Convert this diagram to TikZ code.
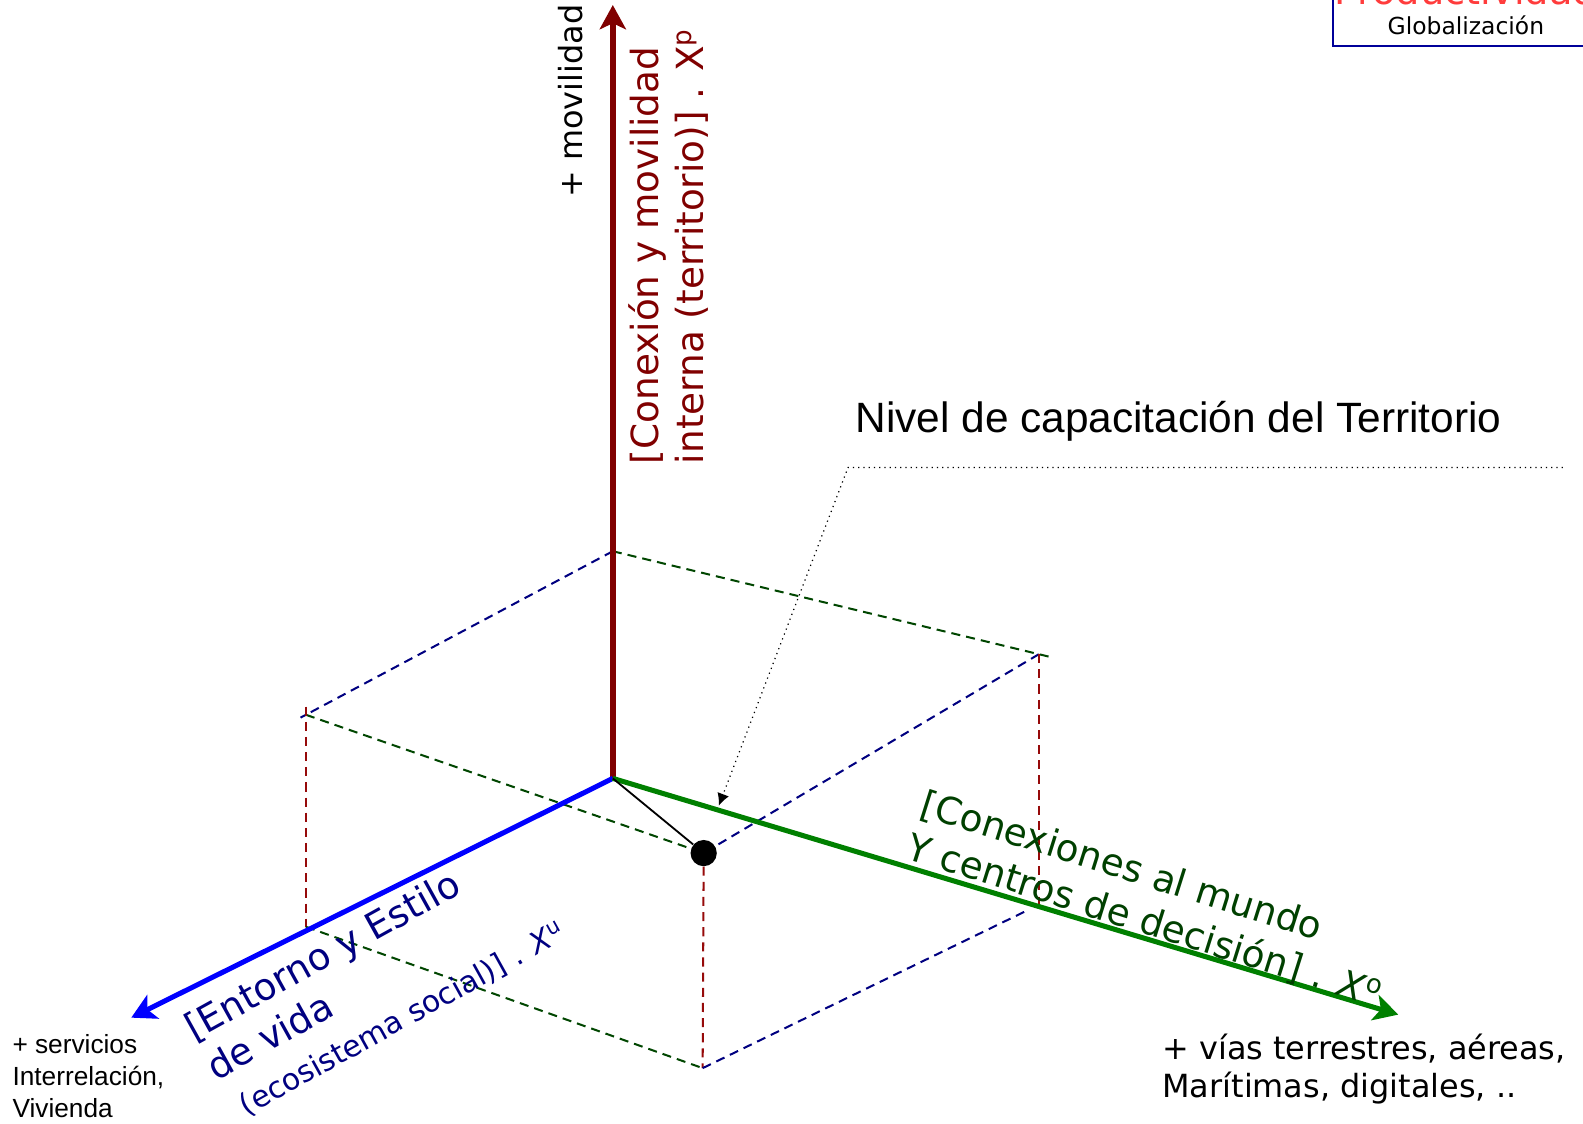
\documentclass[tikz,border=0pt]{standalone}
\usepackage{fontspec}
\setmainfont{DejaVu Sans}
\newfontfamily\arialfont{Liberation Sans}
\usepackage{tikz}
\usetikzlibrary{arrows.meta}
\definecolor{ejered}{RGB}{128,0,0}
\definecolor{ejeblue}{RGB}{0,0,255}
\definecolor{ejegreen}{RGB}{0,128,0}
\definecolor{navytext}{RGB}{0,0,128}
\definecolor{greentext}{RGB}{0,64,0}
\definecolor{reddash}{RGB}{150,10,10}
\definecolor{greendash}{RGB}{0,70,0}
\definecolor{prodred}{RGB}{255,60,60}
\definecolor{boxblue}{RGB}{0,0,153}

\begin{document}
\begin{tikzpicture}[x=0.5pt,y=-0.5pt,>={Stealth[length=12pt,width=13pt,inset=3pt]}]
                \tikzset{eje/.style={->,line width=2.5pt},
                         guia/.style={line width=1pt,dash pattern=on 4.5pt off 3pt},
                         rotulo/.style={inner sep=0pt,font=\fontsize{18.5}{22.5}\selectfont,align=left},
                         nota/.style={inner sep=0pt,font=\fontsize{15.8}{18.5}\selectfont,align=left}}
                \useasboundingbox (0,0) rectangle (1568,1113);
                % ejes
                \coordinate (O) at (607,771);
                \coordinate (P) at (607,5);
                \coordinate (U) at (130,1008);
                \coordinate (Ob) at (1385,1005);
                % caja
                \coordinate (T0) at (607,546);
                \coordinate (TL) at (303,708);
                \coordinate (TR) at (1029,648);
                \coordinate (BL) at (303,918);
                \coordinate (GR) at (1029,897);
                \coordinate (BR) at (1015,903);
                \coordinate (B) at (696,1058);
                \node[circle,fill=black,minimum size=13pt,inner sep=0pt] (nivel) at (697,845) {};
                \draw[guia,navytext,shorten >=-3pt] (T0) -- (TL);
                \draw[guia,greendash,shorten >=-6pt] (T0) -- (TR);
                \draw[guia,navytext] (TR) -- (nivel);
                \draw[guia,greendash] (TL) -- (nivel);
                \draw[guia,reddash,shorten <=-4pt] (TL) -- (BL);
                \draw[guia,reddash] (TR) -- (GR);
                \draw[guia,reddash] (nivel) -- (B);
                \draw[guia,greendash] (BL) -- (B);
                \draw[guia,navytext] (B) -- (BR);
                \draw[eje,ejered,line width=3pt] (O) -- (P);
                \draw[eje,ejeblue] (O) -- (U);
                \draw[eje,ejegreen] (O) -- (Ob);
                \draw[line width=0.9pt] (O) -- (nivel);
                % rotulos
                \node[rotulo,ejered,rotate=90,anchor=north west] (conexion) at (622,460)
                    {[Conexión y movilidad\\interna (territorio)] . X\textsuperscript{p}};
                \node[nota,rotate=90,anchor=base west] (movil) at (577,196) {+ movilidad};
                \node[rotulo,greentext,rotate=-17.5,anchor=north west] (mundo) at (918,780)
                    {[Conexiones al mundo\\Y centros de decisión] . \textit{X}\textsuperscript{o}};
                \node[rotulo,navytext,rotate=29,anchor=north west] (entorno) at (178,1007)
                    {[Entorno y Estilo\\de vida\\{\fontsize{14.8}{18}\selectfont\hspace*{5pt}(ecosistema social)] . \textit{X}\textsuperscript{u}}};
                \node[nota,anchor=north west] (vias) at (1151,1024)
                    {+ vías terrestres, aéreas,\\Marítimas, digitales, ..};
                \node[inner sep=0pt,anchor=north west,align=left,font=\arialfont\fontsize{13}{16}\selectfont] (servicios) at (12,1024)
                    {+ servicios\\Interrelación,\\Vivienda};
                % llamada
                \node[inner sep=0pt,anchor=base west,font=\arialfont\fontsize{21}{25}\selectfont] (capac) at (847,428)
                    {Nivel de capacitación del Territorio};
                \coordinate (ini) at (1548,463);
                \coordinate (codo) at (840,463);
                \coordinate (punta) at (712,798);
                \draw[dotted,line width=0.6pt,-{Latex[length=6pt,width=6pt]}] (ini) -- (codo) -- (punta);
                % recuadro
                \draw[boxblue,line width=1pt] (1320,-30) rectangle (1590,46);
                \node[inner sep=0pt,anchor=base,font=\fontsize{19}{22}\selectfont,text=prodred] (prod) at (1452,4) {Productividad};
                \node[inner sep=0pt,font=\fontsize{11.6}{14}\selectfont] (glob) at (1452,25) {Globalización};
\end{tikzpicture}
\end{document}
